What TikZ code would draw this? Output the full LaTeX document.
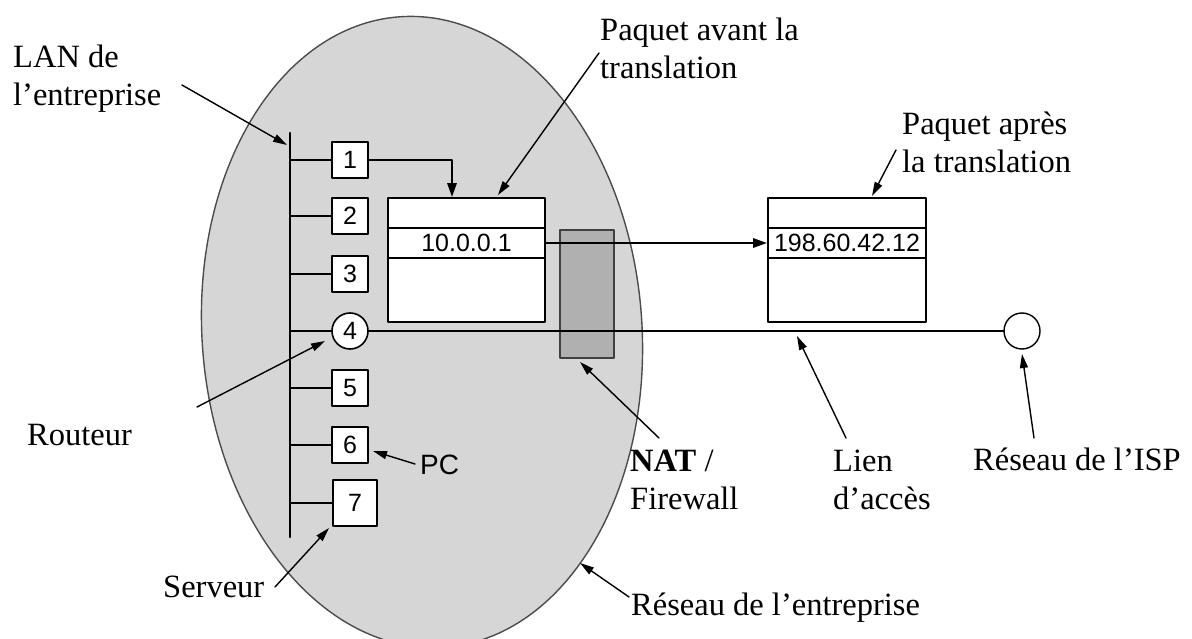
\documentclass[tikz,border=0pt]{standalone}
\usepackage{fontspec}
\setmainfont{Liberation Serif}
\setsansfont{Liberation Sans}
\usetikzlibrary{arrows.meta}

\tikzset{
  poste/.style={draw, fill=white, line width=1.6pt, minimum width=36pt, minimum height=36pt,
    inner sep=0pt, font=\sffamily\fontsize{25}{30}\selectfont},
  paquet/.style={draw, fill=white, line width=1.6pt, minimum width=157pt, minimum height=124pt, inner sep=0pt},
  champ/.style={draw, line width=1.6pt, minimum width=157pt, minimum height=30pt, inner sep=0pt,
    font=\sffamily\fontsize{25}{30}\selectfont},
  etiq/.style={anchor=base west, inner sep=0pt, align=left, font=\fontsize{32.5}{38}\selectfont},
  lien/.style={line width=2.6pt},
  fleche/.style={line width=1.4pt, -{Triangle[length=14pt,width=8pt]}},
}

\begin{document}
\begin{tikzpicture}[x=1pt, y=-1pt, line cap=round, line join=round]

  %% ════ réseau de l'entreprise ════
  \draw[fill=black!16, draw=black!70, line width=1.4pt] (422,332) ellipse [x radius=220, y radius=316, rotate=4];

  %% ════ NAT / firewall ════
  \node[draw=black!75, fill=black!31, line width=1.4pt, minimum width=54pt, minimum height=128pt] (fw) at (587,294) {};

  %% ════ postes du LAN ════
  \coordinate (bh) at (290,133);
  \coordinate (bb) at (290,537);
  \node[poste] (p1) at (350,160) {1};
  \node[poste] (p2) at (350,216) {2};
  \node[poste] (p3) at (350,274) {3};
  \node[poste, circle, minimum size=36pt] (p4) at (350,331) {4};
  \node[poste] (p5) at (350,388) {5};
  \node[poste] (p6) at (350,445) {6};
  \node[poste, minimum width=44pt, minimum height=46pt] (p7) at (355,503) {7};
  \draw[line width=2.6pt] (bh) -- (bb);
  \foreach \i in {1,...,7}
    \draw[line width=2pt] (p\i.west -| bh) -- (p\i.west);

  %% ════ paquets ════
  \node[paquet] (avant) at (466.5,260) {};
  \node[champ] (ipavant) at (466.5,243) {10.0.0.1};
  \node[paquet, minimum width=158pt] (apres) at (847,260) {};
  \node[champ, minimum width=158pt] (ipapres) at (847,243) {198.60.42.12};

  %% ════ réseau de l'ISP ════
  \node[draw, circle, fill=white, line width=1.4pt, minimum size=36pt] (isp) at (1022,331) {};

  %% ════ liens ════
  \draw[lien, -{Triangle[length=14pt,width=9pt]}] (p1.east) -| ([xshift=-14.5pt]avant.north);
  \draw[lien, -{Triangle[length=14pt,width=9pt]}] (ipavant.east) -- (ipapres.west);
  \draw[lien] (p4.east) -- (isp.west);

  %% ════ étiquettes (base = dernière ligne) ════
  \node[etiq] (lan) at (13,106) {LAN de\\l’entreprise};
  \node[etiq] (pqav) at (600,79) {Paquet avant la\\translation};
  \node[etiq] (pqap) at (902,173) {Paquet après\\la translation};
  \node[etiq] (rout) at (27,445) {Routeur};
  \node[etiq] (serv) at (163,597) {Serveur};
  \node[etiq] (nat) at (630,509) {\textbf{NAT} /\\Firewall};
  \node[etiq] (acces) at (833,509) {Lien\\d’accès};
  \node[etiq] (risp) at (973,470) {Réseau de l’ISP};
  \node[etiq] (rent) at (631,615) {Réseau de l’entreprise};
  \node[anchor=base west, inner sep=0pt, font=\sffamily\fontsize{28}{32}\selectfont] (pc) at (420,474) {PC};

  %% ════ flèches des étiquettes ════
  \coordinate (qlan) at (182,85);    \coordinate (tlan) at (287,145);
  \coordinate (qav) at (599,53);     \coordinate (tav) at (498,195);
  \coordinate (qap) at (896,150);    \coordinate (tap) at (872,196);
  \coordinate (qrout) at (197,407);  \coordinate (trout) at (325,341);
  \coordinate (qpc) at (415,464);    \coordinate (tpc) at (373,451);
  \coordinate (qserv) at (275,587);  \coordinate (tserv) at (329,528);
  \coordinate (qnat) at (659,438);   \coordinate (tnat) at (580,362);
  \coordinate (qacc) at (846,438);   \coordinate (tacc) at (797,336);
  \coordinate (qisp) at (1034,438);  \coordinate (tisp) at (1022,354);
  \coordinate (qent) at (629,597);   \coordinate (tent) at (580,563);
  \draw[fleche] (qlan) -- (tlan);
  \draw[fleche] (qav) -- (tav);
  \draw[fleche] (qap) -- (tap);
  \draw[fleche] (qrout) -- (trout);
  \draw[fleche] (qpc) -- (tpc);
  \draw[fleche] (qserv) -- (tserv);
  \draw[fleche] (qnat) -- (tnat);
  \draw[fleche] (qacc) -- (tacc);
  \draw[fleche] (qisp) -- (tisp);
  \draw[fleche] (qent) -- (tent);

  \pgfresetboundingbox
  \path[use as bounding box] (0,0) rectangle (1192,639);
\end{tikzpicture}
\end{document}
